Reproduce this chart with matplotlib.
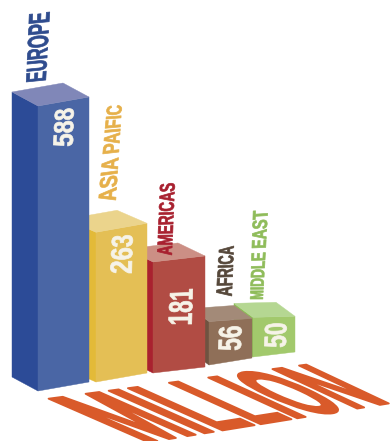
import numpy as np
import matplotlib
matplotlib.use('Agg')
import matplotlib.pyplot as plt
from matplotlib.patches import Polygon
from matplotlib.path import Path
from matplotlib.patheffects import AbstractPathEffect
from matplotlib.transforms import IdentityTransform

WIDTH, HEIGHT = 390, 441

# ---- DATA ---- #
regions = ['EUROPE', 'ASIA PAIFIC', 'AMERICAS', 'AFRICA', 'MIDDLE EAST']
visitors = [588, 263, 181, 56, 50]
unit = 'MILLION'

# ---- BAR LAYOUT (pixels, y down) ---- #
front_base = [(38, 391), (96, 382), (153, 373), (209, 365), (253, 357)]
right_base = [(89, 382), (147, 373), (205, 367), (252, 358), (295, 352)]
depth = [(-26, -14), (-30, -13), (-27, -13), (-18, -13), (-19, -14)]
right_ratio = [1.0, 1.0, 1.0, 0.91, 0.9]

left_colors = ['#2c4b97', '#e3ba38', '#a9212f', '#6f5341', '#8dbf56']
right_colors = ['#4a66a5', '#e4bf55', '#b14c44', '#8f6f58', '#a2c96c']
top_colors = ['#8087b8', '#ebd48c', '#cc8f85', '#a38a78', '#b5d792']
label_colors = ['#2f4c8e', '#e6b04a', '#a8202f', '#55473a', '#8fbc5a']

# text quads: baseline start, baseline end, cap end, cap start
label_quads = [
    [(46, 80), (50, 12), (29, 14), (26, 82)],
    [(116, 200), (122, 105), (107, 106), (98, 203)],
    [(172, 255), (175, 183), (160, 184), (157, 255)],
    [(232, 296), (234, 246), (219, 247), (216, 296)],
    [(263, 299), (268, 210), (253, 211), (250, 299)],
]
value_quads = [
    [(73, 146), (74, 108), (55, 110), (53, 146)],
    [(132, 273), (133, 235), (112, 236), (110, 273)],
    [(192, 324), (193, 289), (170, 290), (168, 324)],
    [(241, 350), (242, 326), (219, 327), (218, 350)],
    [(286, 347), (287, 323), (265, 324), (264, 347)],
]
unit_quad = [(150, 443), (390, 404), (305, 364), (47, 398)]


def bar_height(value):
    # bars follow a compressed scale, not a linear one
    return 285 * (value / visitors[0])**0.8


def to_homography(src, dst):
    rows = []
    rhs = []
    for (x, y), (u, v) in zip(src, dst):
        rows.append([x, y, 1, 0, 0, 0, -u*x, -u*y])
        rows.append([0, 0, 0, x, y, 1, -v*x, -v*y])
        rhs.extend([u, v])
    return np.append(np.linalg.solve(np.array(rows), np.array(rhs)), 1).reshape(3, 3)


class QuadWarp(AbstractPathEffect):
    # stretches the glyph outlines of a text onto a four-cornered area
    def __init__(self, quad, weight=0.0):
        super().__init__()
        self.quad = [(x, HEIGHT - y) for x, y in quad]
        self.weight = weight

    def draw_path(self, renderer, gc, tpath, affine, rgbFace=None):
        x0, y0, x1, y1 = tpath.get_extents().extents
        h = to_homography([(x0, y0), (x1, y0), (x1, y1), (x0, y1)], self.quad)
        pts = np.column_stack([tpath.vertices, np.ones(len(tpath.vertices))]) @ h.T
        warped = Path(pts[:, :2] / pts[:, 2:], tpath.codes)
        gc0 = renderer.new_gc()
        gc0.copy_properties(gc)
        # a thin outline in the text colour makes the strokes heavier
        gc0.set_linewidth(self.weight)
        gc0.set_foreground(rgbFace)
        renderer.draw_path(gc0, warped, IdentityTransform(), rgbFace)
        gc0.restore()


def draw_bar(ax, i):
    fx, fy = front_base[i]
    rx, ry = right_base[i]
    dx, dy = depth[i]
    h = bar_height(visitors[i])
    hr = h * right_ratio[i]
    faces = [
        ([(fx, fy), (fx, fy-h), (fx+dx, fy-h+dy), (fx+dx, fy+dy)], left_colors[i]),
        ([(fx, fy), (rx, ry), (rx, ry-hr), (fx, fy-h)], right_colors[i]),
        ([(fx, fy-h), (rx, ry-hr), (rx+dx, ry-hr+dy), (fx+dx, fy-h+dy)], top_colors[i]),
    ]
    for pts, col in faces:
        ax.add_patch(Polygon(pts, closed=True, facecolor=col, edgecolor=col, linewidth=0.3))


def draw_text(ax, s, quad, color, fontsize=None, weight=0.5):
    quad = np.array(quad, dtype=float)
    base = quad[1] - quad[0]
    rot = np.degrees(np.arctan2(-base[1], base[0]))
    if fontsize is None:
        fontsize = 0.7 * np.hypot(*(quad[3] - quad[0]))
    cx, cy = quad.mean(axis=0)
    t = ax.text(cx, cy, s, color=color, fontsize=fontsize, rotation=rot,
                rotation_mode='anchor', ha='center', va='center', fontweight='bold',
                family=['Liberation Sans Narrow', 'Liberation Sans'])
    t.set_path_effects([QuadWarp(quad, weight)])
    return t


fig = plt.figure(figsize=(WIDTH/100, HEIGHT/100), dpi=100, facecolor='white')
ax = fig.add_axes([0, 0, 1, 1])
ax.set_xlim(0, WIDTH)
ax.set_ylim(HEIGHT, 0)
ax.axis('off')

# right-most bar goes first, each one hides the left corner of the next
for i in reversed(range(len(visitors))):
    draw_bar(ax, i)

for i, name in enumerate(regions):
    draw_text(ax, name, label_quads[i], label_colors[i])
    draw_text(ax, str(visitors[i]), value_quads[i], '#f6f3e8')

draw_text(ax, unit, unit_quad, '#d95a2a', fontsize=26, weight=1.3)

fig.savefig('out.png', dpi=100)
